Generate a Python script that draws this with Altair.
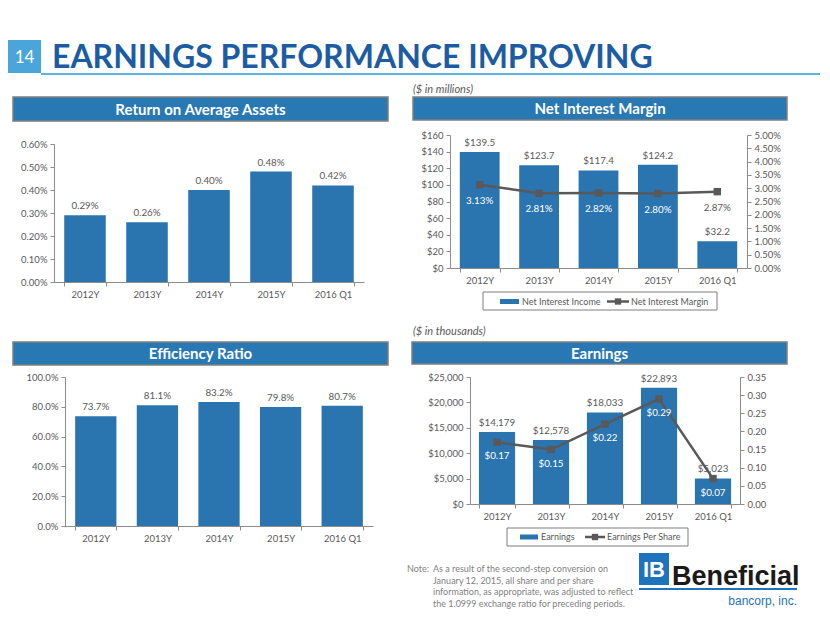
import altair as alt
import pandas as pd

# ---------------- data ----------------
periods = ["2012Y", "2013Y", "2014Y", "2015Y", "2016 Q1"]
roa_pct = [0.29, 0.26, 0.40, 0.48, 0.42]
efficiency_pct = [73.7, 81.1, 83.2, 79.8, 80.7]
net_interest_income = [139.5, 123.7, 117.4, 124.2, 32.2]
net_interest_margin_pct = [3.13, 2.81, 2.82, 2.80, 2.87]
earnings = [14179, 12578, 18033, 22893, 5023]
eps = [0.17, 0.15, 0.22, 0.29, 0.07]

slide_number = "14"
slide_title = "EARNINGS PERFORMANCE IMPROVING"
panel_titles = ["Return on Average Assets", "Net Interest Margin", "Efficiency Ratio", "Earnings"]
unit_notes = ["($ in millions)", "($ in thousands)"]
nim_series = ["Net Interest Income", "Net Interest Margin"]
earn_series = ["Earnings", "Earnings Per Share"]
roa_ticks = [0.0, 0.001, 0.002, 0.003, 0.004, 0.005, 0.006]
eff_ticks = [0.0, 0.2, 0.4, 0.6, 0.8, 1.0]
nii_ticks = [0, 20, 40, 60, 80, 100, 120, 140, 160]
nim_ticks = [0.0, 0.005, 0.01, 0.015, 0.02, 0.025, 0.03, 0.035, 0.04, 0.045, 0.05]
earn_ticks = [0, 5000, 10000, 15000, 20000, 25000]
eps_ticks = [0.0, 0.05, 0.10, 0.15, 0.20, 0.25, 0.30, 0.35]
note_lead = "Note:"
note_lines = [
    "As a result of the second-step conversion on",
    "January 12, 2015, all share and per share",
    "information, as appropriate, was adjusted to reflect",
    "the 1.0999 exchange ratio for preceding periods.",
]
logo_mark = "IB"
logo_name = "Beneficial"
logo_sub = "bancorp, inc."

df = pd.DataFrame({
    "period": periods,
    "roa": [v / 100 for v in roa_pct],
    "eff": [v / 100 for v in efficiency_pct],
    "nii": net_interest_income,
    "nim": [v / 100 for v in net_interest_margin_pct],
    "earn": earnings,
    "eps": eps,
})

# ---------------- style ----------------
W, H = 812, 604
OFF = 8
FONT = "Lato"
BAR = "#2A74B0"
HDR = "#2878B4"
LINE = "#595959"
GREY = "#595959"
AXC = "#8C8C8C"
LBL = 9.8


def P(v):
    return v - OFF


AX = dict(domainColor=AXC, tickColor=AXC, labelColor=GREY, labelFont=FONT,
          labelFontSize=9.5, grid=False, title=None, tickSize=4, labelPadding=3, zindex=1)

XF = alt.X("period:N", sort=periods)


def x_enc(x0, x1, ybot):
    return alt.X("period:N", sort=periods,
                 scale=alt.Scale(domain=periods, range=[P(x0), P(x1)],
                                 paddingInner=0.33, paddingOuter=0.165),
                 axis=alt.Axis(orient="bottom", offset=P(ybot) - H, tickBand="extent",
                               labelAngle=0, **AX))


def y_enc(col, dom, ybot, ytop, ticks, fmt, orient, xpos):
    off = -P(xpos) if orient == "left" else P(xpos) - W
    return alt.Y(f"{col}:Q",
                 scale=alt.Scale(domain=dom, range=[P(ybot), P(ytop)], nice=False, zero=True),
                 axis=alt.Axis(orient=orient, offset=off, values=ticks, format=fmt, **AX))


def text_item(text, x, y, size, color, weight="normal", style="normal",
              align="left", baseline="middle", font=FONT):
    d = pd.DataFrame({"label": [text]})
    return alt.Chart(d).mark_text(align=align, baseline=baseline, fontSize=size, color=color,
                                  fontWeight=weight, fontStyle=style, font=font).encode(
        x=alt.value(P(x)), y=alt.value(P(y)), text="label:N")


def rect_item(x0, x1, y0, y1, fill, stroke=None, sw=1.0):
    d = pd.DataFrame({"k": [0]})
    kw = dict(fill=fill)
    if stroke:
        kw.update(stroke=stroke, strokeWidth=sw)
    return alt.Chart(d).mark_rect(**kw).encode(
        x=alt.value(P(x0)), x2=alt.value(P(x1)), y=alt.value(P(y0)), y2=alt.value(P(y1)))


def hline(x0, x1, y, color, sw):
    d = pd.DataFrame({"k": [0]})
    return alt.Chart(d).mark_rule(color=color, strokeWidth=sw).encode(
        x=alt.value(P(x0)), x2=alt.value(P(x1)), y=alt.value(P(y)))


def sq(x, y, size=40):
    d = pd.DataFrame({"k": [0]})
    return alt.Chart(d).mark_point(shape="square", filled=True, size=size, color=LINE, opacity=1).encode(
        x=alt.value(P(x)), y=alt.value(P(y)))


def header(text, x0, x1, y0, y1):
    return [rect_item(x0, x1, y0, y1, HDR, "#7F7F7F", 1.5),
            text_item(text, (x0 + x1) / 2, (y0 + y1) / 2 + 0.5, 15, "white", weight="bold", align="center")]


def bar_panel(col, dom, x0, x1, ybot, ytop, ticks, fmt, lblfmt):
    base = alt.Chart(df)
    bars = base.mark_bar(color=BAR).encode(
        x=x_enc(x0, x1, ybot), y=y_enc(col, dom, ybot, ytop, ticks, fmt, "left", x0))
    labels = base.mark_text(baseline="bottom", dy=-4, fontSize=LBL, color=GREY, font=FONT).encode(
        x=XF, y=alt.Y(f"{col}:Q"), text=alt.Text(f"{col}:Q", format=lblfmt))
    return alt.layer(bars, labels)


def line_layer(col, dom, x1, ybot, ytop, ticks, fmt, lblfmt, color_cond, dy):
    base = alt.Chart(df)
    yy = y_enc(col, dom, ybot, ytop, ticks, fmt, "right", x1)
    line = base.mark_line(color=LINE, strokeWidth=2.5).encode(x=XF, y=yy)
    pts = base.mark_point(shape="square", filled=True, size=55, color=LINE, opacity=1).encode(
        x=XF, y=alt.Y(f"{col}:Q"))
    lbl = base.mark_text(baseline="middle", dy=dy, fontSize=LBL, font=FONT).encode(
        x=XF, y=alt.Y(f"{col}:Q"),
        text=alt.Text(f"{col}:Q", format=lblfmt), color=color_cond)
    return alt.layer(line, pts, lbl)


layers = []

# ---- slide title ----
layers.append(rect_item(8, 41, 40, 73, "#4AA5DB"))
layers.append(text_item(slide_number, 24.5, 57.5, 17, "white", align="center"))
layers.append(hline(41, 830, 74, "#5BB4E5", 2))
layers.append(text_item(slide_title, 52, 68, 32, "#1C5CA3", weight="bold", baseline="alphabetic"))

# ---- Return on Average Assets ----
layers += header(panel_titles[0], 13, 388, 97, 121)
layers.append(bar_panel("roa", [0, 0.006], 54, 364, 282, 144, roa_ticks, ".2%", ".2%"))

# ---- Efficiency Ratio ----
layers += header(panel_titles[2], 13, 388, 342, 365)
layers.append(bar_panel("eff", [0, 1.0], 65, 373, 526, 377, eff_ticks, ".1%", ".1%"))

# ---- Net Interest Margin ----
layers.append(text_item(unit_notes[0], 413, 90, 11, GREY, style="italic"))
layers += header(panel_titles[1], 413, 787, 97, 120)
nim_color = alt.condition(alt.datum.period == periods[-1], alt.value(GREY), alt.value("white"))
nim_panel = alt.layer(
    bar_panel("nii", [0, 160], 450, 747, 268, 135, nii_ticks, "$,.0f", "$.1f"),
    line_layer("nim", [0, 0.05], 747, 268, 135, nim_ticks, ".2%", ".2%", nim_color, 16),
).resolve_scale(y="independent")
layers.append(nim_panel)
# legend
layers.append(rect_item(483, 717, 292, 310, "white", "#7F7F7F", 1))
layers.append(rect_item(500, 519, 299, 304, BAR))
layers.append(text_item(nim_series[0], 522, 301.5, 9, GREY))
layers.append(hline(607, 629, 301.5, LINE, 2.5))
layers.append(sq(618, 301.5))
layers.append(text_item(nim_series[1], 631, 301.5, 9, GREY))

# ---- Earnings ----
layers.append(text_item(unit_notes[1], 413, 332, 11, GREY, style="italic"))
layers += header(panel_titles[3], 412, 787, 342, 364)
eps_color = alt.value("white")
earn_panel = alt.layer(
    bar_panel("earn", [0, 25000], 470, 740, 504, 377, earn_ticks, "$,.0f", "$,.0f"),
    line_layer("eps", [0, 0.35], 740, 504, 377, eps_ticks, ".2f", "$.2f", eps_color, 14),
).resolve_scale(y="independent")
layers.append(earn_panel)
layers.append(rect_item(507, 688, 528, 546, "white", "#7F7F7F", 1))
layers.append(rect_item(520, 538, 534.5, 539.5, BAR))
layers.append(text_item(earn_series[0], 541, 537, 9, GREY))
layers.append(hline(585, 605, 537, LINE, 2.5))
layers.append(sq(595, 537))
layers.append(text_item(earn_series[1], 607, 537, 9, GREY))

# ---- note ----
layers.append(text_item(note_lead, 407, 569, 9, "#7F7F7F"))
for i, line in enumerate(note_lines):
    layers.append(text_item(line, 433, 569 + i * 11.5, 9, "#7F7F7F"))

# ---- logo ----
LOGO_FONT = "Liberation Sans"
layers.append(rect_item(639, 669, 553, 585, "#1D73BC"))
layers.append(text_item(logo_mark, 654, 570, 22, "white", weight="bold", align="center", font=LOGO_FONT))
layers.append(text_item(logo_name, 672, 585, 27, "#1A1A1A", weight="bold", baseline="alphabetic",
                        font=LOGO_FONT))
layers.append(hline(639, 797, 589, "#1D73BC", 2))
layers.append(text_item(logo_sub, 797, 601, 12, "#1D73BC", align="right", font=LOGO_FONT))

chart = alt.layer(*layers).resolve_scale(
    x="independent", y="independent"
).properties(
    width=W, height=H, autosize=alt.AutoSizeParams(type="none"), padding=0, background="white"
).configure_view(stroke=None)

chart.save("out.html", embed_options={"renderer": "svg", "actions": False})
